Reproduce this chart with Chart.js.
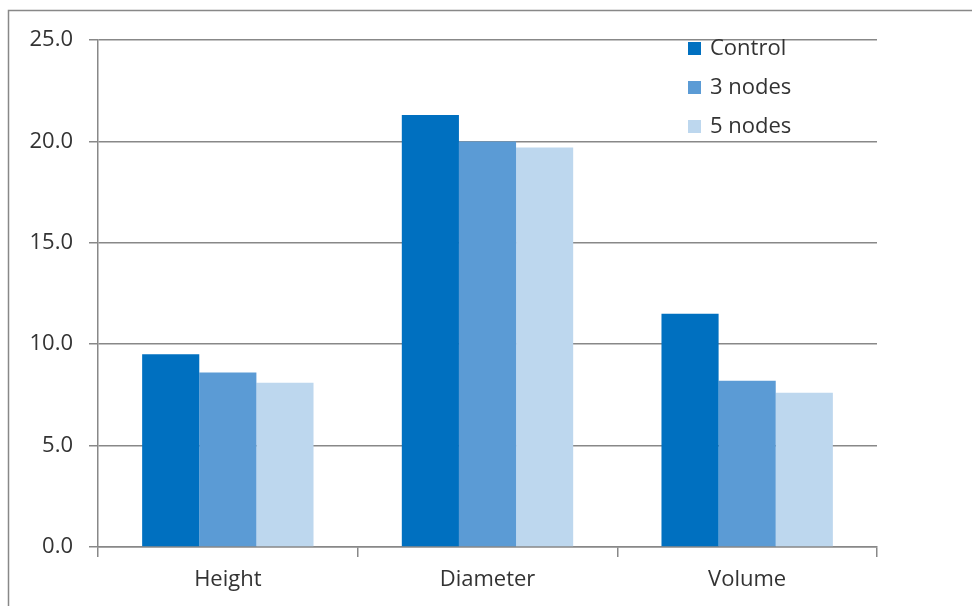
<!DOCTYPE html>
<html>
<head>
<meta charset="utf-8">
<script src="https://cdn.jsdelivr.net/npm/chart.js@4/dist/chart.umd.min.js"></script>
<style>
  html, body { margin: 0; padding: 0; background: #fff; }
  #wrap { width: 972px; height: 606px; position: relative; }
</style>
</head>
<body>
<div id="wrap"><canvas id="c"></canvas></div>
<script>
var categories = ['Height', 'Diameter', 'Volume'];
var seriesNames = ['Control', '3 nodes', '5 nodes'];
var controlValues = [9.5, 21.3, 11.5];
var nodes3Values = [8.6, 20.0, 8.2];
var nodes5Values = [8.1, 19.7, 7.6];
var yTicks = [0, 5, 10, 15, 20, 25];

var colors = ['#0070C0', '#5B9BD5', '#BDD7EE'];
var textColor = '#333333';
var lineColor = '#888888';
var fontFamily = "'Open Sans', 'Noto Sans', sans-serif";

Chart.defaults.font.family = fontFamily;
Chart.defaults.font.size = 22;
Chart.defaults.color = textColor;

// outer frame of the chart object
var framePlugin = {
  id: 'frame',
  beforeDraw: function (chart) {
    var ctx = chart.ctx;
    ctx.save();
    ctx.strokeStyle = lineColor;
    ctx.lineWidth = 1.5;
    ctx.strokeRect(8.5, 10.5, 1000, 700);
    ctx.restore();
  }
};

// legend drawn inside the plot, top right
var insideLegend = {
  id: 'insideLegend',
  afterDraw: function (chart) {
    var ctx = chart.ctx;
    ctx.save();
    ctx.font = '22px ' + fontFamily;
    ctx.textBaseline = 'middle';
    chart.data.datasets.forEach(function (ds, i) {
      var y = 49 + i * 39;
      ctx.fillStyle = ds.backgroundColor;
      ctx.fillRect(688, y - 7, 13, 13);
      ctx.fillStyle = textColor;
      ctx.fillText(ds.label, 710, y);
    });
    ctx.restore();
  }
};

var seriesValues = [controlValues, nodes3Values, nodes5Values];

new Chart(document.getElementById('c'), {
  type: 'bar',
  data: {
    labels: categories,
    datasets: seriesNames.map(function (name, i) {
      return {
        label: name,
        data: seriesValues[i],
        backgroundColor: colors[i],
        borderWidth: 0,
        barPercentage: 1,
        categoryPercentage: 0.66
      };
    })
  },
  options: {
    responsive: true,
    maintainAspectRatio: false,
    animation: false,
    layout: { padding: { left: 0, right: 95, top: 40, bottom: 0 } },
    plugins: {
      legend: { display: false },
      tooltip: { enabled: false }
    },
    scales: {
      x: {
        grid: { display: true, drawOnChartArea: false, color: lineColor, lineWidth: 1.5, tickLength: 10, offset: true },
        border: { color: lineColor, width: 1.5 },
        ticks: { color: textColor, padding: 10 },
        afterFit: function (s) { s.height = 59; }
      },
      y: {
        min: 0,
        max: 25,
        afterBuildTicks: function (s) { s.ticks = yTicks.map(function (v) { return { value: v }; }); },
        grid: { color: lineColor, lineWidth: 1.5, tickLength: 9 },
        border: { color: lineColor, width: 1.5 },
        ticks: {
          color: textColor,
          padding: 16,
          callback: function (v) { return Number(v).toFixed(1); }
        },
        afterFit: function (s) { s.width = 98; }
      }
    }
  },
  plugins: [framePlugin, insideLegend]
});
</script>
</body>
</html>
